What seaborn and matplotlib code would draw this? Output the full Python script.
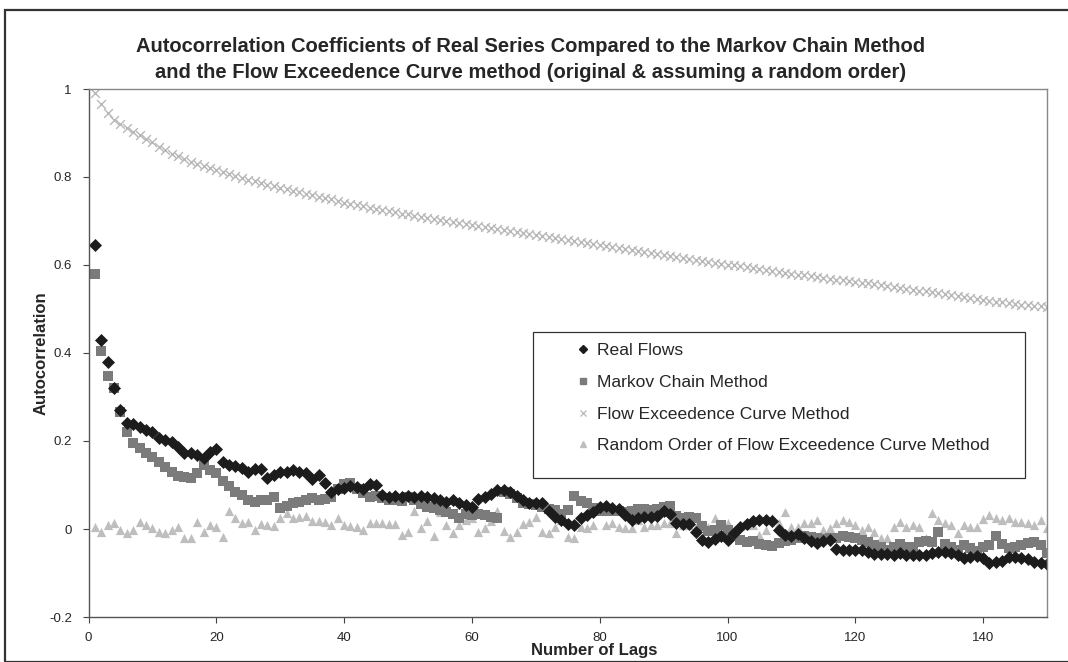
import numpy as np
import pandas as pd
import seaborn as sns
import matplotlib
matplotlib.use("Agg")
import matplotlib.pyplot as plt
from matplotlib.patches import Rectangle

lags = list(range(1, 151))

real_flows = [
    0.645, 0.430, 0.380, 0.320, 0.270, 0.242, 0.238, 0.231, 0.225, 0.220,
    0.206, 0.202, 0.198, 0.186, 0.172, 0.173, 0.168, 0.161, 0.176, 0.181,
    0.152, 0.145, 0.143, 0.138, 0.130, 0.136, 0.136, 0.115, 0.123, 0.130,
    0.130, 0.134, 0.130, 0.127, 0.113, 0.123, 0.105, 0.085, 0.090, 0.094,
    0.098, 0.096, 0.092, 0.102, 0.100, 0.077, 0.072, 0.074, 0.072, 0.076,
    0.073, 0.075, 0.072, 0.070, 0.066, 0.062, 0.067, 0.060, 0.055, 0.051,
    0.068, 0.072, 0.080, 0.088, 0.089, 0.085, 0.076, 0.066, 0.060, 0.058,
    0.058, 0.040, 0.028, 0.020, 0.011, 0.009, 0.024, 0.032, 0.038, 0.050,
    0.052, 0.048, 0.045, 0.032, 0.020, 0.026, 0.027, 0.028, 0.030, 0.040,
    0.035, 0.013, 0.011, 0.012, -0.006, -0.024, -0.030, -0.022, -0.017, -0.025,
    -0.010, 0.004, 0.012, 0.018, 0.020, 0.021, 0.018, -0.002, -0.014, -0.017,
    -0.012, -0.020, -0.028, -0.031, -0.028, -0.025, -0.046, -0.047, -0.048, -0.048,
    -0.048, -0.052, -0.057, -0.057, -0.057, -0.058, -0.055, -0.060, -0.058, -0.058,
    -0.059, -0.055, -0.052, -0.052, -0.054, -0.059, -0.067, -0.064, -0.062, -0.067,
    -0.077, -0.074, -0.072, -0.063, -0.063, -0.066, -0.069, -0.074, -0.078, -0.080,
]

markov_chain = [
    0.579, 0.405, 0.348, 0.320, 0.267, 0.221, 0.195, 0.183, 0.173, 0.164,
    0.153, 0.142, 0.130, 0.120, 0.119, 0.115, 0.127, 0.145, 0.134, 0.128,
    0.110, 0.098, 0.085, 0.077, 0.066, 0.062, 0.066, 0.067, 0.072, 0.047,
    0.052, 0.058, 0.062, 0.066, 0.070, 0.066, 0.068, 0.073, 0.092, 0.102,
    0.105, 0.090, 0.082, 0.072, 0.075, 0.070, 0.067, 0.066, 0.064, 0.072,
    0.066, 0.056, 0.050, 0.047, 0.043, 0.038, 0.033, 0.025, 0.033, 0.032,
    0.034, 0.032, 0.028, 0.026, 0.085, 0.080, 0.070, 0.060, 0.056, 0.055,
    0.050, 0.045, 0.043, 0.035, 0.043, 0.075, 0.064, 0.058, 0.048, 0.041,
    0.040, 0.042, 0.041, 0.039, 0.041, 0.045, 0.045, 0.043, 0.045, 0.051,
    0.053, 0.030, 0.025, 0.027, 0.025, 0.006, -0.004, -0.002, 0.008, -0.002,
    -0.017, -0.025, -0.029, -0.028, -0.033, -0.037, -0.038, -0.031, -0.028, -0.025,
    -0.021, -0.017, -0.018, -0.021, -0.022, -0.020, -0.021, -0.017, -0.019, -0.021,
    -0.026, -0.030, -0.036, -0.040, -0.047, -0.042, -0.035, -0.040, -0.042, -0.030,
    -0.028, -0.030, -0.006, -0.033, -0.040, -0.047, -0.036, -0.043, -0.050, -0.040,
    -0.036, -0.016, -0.033, -0.044, -0.040, -0.036, -0.032, -0.030, -0.036, -0.055,
]

flow_exceedence = [
    0.990, 0.965, 0.945, 0.930, 0.920, 0.912, 0.903, 0.895, 0.887, 0.879,
    0.869, 0.861, 0.853, 0.847, 0.841, 0.835, 0.830, 0.825, 0.821, 0.817,
    0.812, 0.807, 0.802, 0.798, 0.794, 0.790, 0.786, 0.782, 0.779, 0.775,
    0.772, 0.768, 0.765, 0.762, 0.759, 0.755, 0.752, 0.749, 0.746, 0.742,
    0.739, 0.736, 0.733, 0.730, 0.727, 0.725, 0.722, 0.720, 0.717, 0.715,
    0.712, 0.710, 0.707, 0.705, 0.702, 0.700, 0.698, 0.695, 0.693, 0.691,
    0.689, 0.686, 0.684, 0.682, 0.680, 0.677, 0.675, 0.673, 0.671, 0.668,
    0.666, 0.664, 0.662, 0.660, 0.657, 0.655, 0.653, 0.650, 0.648, 0.646,
    0.644, 0.641, 0.639, 0.637, 0.635, 0.632, 0.630, 0.628, 0.625, 0.623,
    0.621, 0.619, 0.616, 0.614, 0.612, 0.610, 0.607, 0.605, 0.603, 0.601,
    0.599, 0.597, 0.595, 0.593, 0.590, 0.588, 0.586, 0.584, 0.582, 0.580,
    0.578, 0.577, 0.575, 0.573, 0.571, 0.569, 0.567, 0.566, 0.564, 0.562,
    0.560, 0.558, 0.556, 0.554, 0.552, 0.550, 0.548, 0.546, 0.544, 0.542,
    0.540, 0.538, 0.536, 0.534, 0.532, 0.530, 0.527, 0.525, 0.523, 0.521,
    0.519, 0.517, 0.515, 0.513, 0.511, 0.510, 0.508, 0.507, 0.506, 0.505,
]

random_order = [
    0.004, -0.006, 0.009, 0.014, -0.002, -0.010, -0.002, 0.017, 0.009, 0.002,
    -0.006, -0.010, -0.002, 0.005, -0.021, -0.021, 0.017, -0.006, 0.009, 0.005,
    -0.019, 0.040, 0.024, 0.014, 0.017, -0.003, 0.012, 0.009, 0.007, 0.026,
    0.036, 0.026, 0.028, 0.029, 0.019, 0.018, 0.016, 0.010, 0.025, 0.010,
    0.006, 0.004, -0.002, 0.014, 0.013, 0.013, 0.012, 0.011, -0.014, -0.007,
    0.040, 0.003, 0.018, -0.016, 0.038, 0.008, -0.008, 0.009, 0.021, 0.024,
    -0.007, 0.003, 0.019, 0.042, -0.004, -0.018, -0.006, 0.011, 0.017, 0.028,
    -0.006, -0.008, 0.005, 0.020, -0.019, -0.020, 0.005, 0.002, 0.009, 0.043,
    0.009, 0.013, 0.005, 0.002, 0.002, 0.020, 0.005, 0.009, 0.009, 0.013,
    0.013, -0.010, 0.009, 0.009, 0.005, 0.012, 0.005, 0.024, 0.005, 0.013,
    -0.005, 0.007, 0.010, 0.009, -0.014, -0.002, 0.024, 0.013, 0.039, 0.005,
    0.005, 0.013, 0.014, 0.020, -0.002, 0.003, 0.013, 0.020, 0.017, 0.009,
    -0.002, 0.004, -0.006, -0.021, -0.021, 0.004, 0.017, 0.005, 0.009, 0.004,
    -0.021, 0.036, 0.020, 0.013, 0.009, -0.010, 0.009, 0.005, 0.005, 0.022,
    0.032, 0.024, 0.020, 0.024, 0.017, 0.017, 0.013, 0.009, 0.020, 0.002,
]

series_names = [
    "Real Flows",
    "Markov Chain Method",
    "Flow Exceedence Curve Method",
    "Random Order of Flow Exceedence Curve Method",
]
y_ticks = [-0.2, 0, 0.2, 0.4, 0.6, 0.8, 1]
y_tick_labels = ["-0.2", "0", "0.2", "0.4", "0.6", "0.8", "1"]
x_ticks = [0, 20, 40, 60, 80, 100, 120, 140]

frames = []
for name, vals in zip(series_names,
                      [real_flows, markov_chain, flow_exceedence, random_order]):
    frames.append(pd.DataFrame({"lag": lags, "acf": vals, "series": name}))
df = pd.concat(frames, ignore_index=True)

sns.set_theme(style="white")
plt.rcParams["font.family"] = ["Liberation Sans", "DejaVu Sans"]

W, H = 1068, 662
fig = plt.figure(figsize=(W / 100, H / 100), dpi=100)
fig.patch.set_facecolor("white")
ax = fig.add_axes([88.5 / W, 1 - 617 / H, (1047 - 88.5) / W, (617 - 89) / H])

palette = {
    series_names[0]: "#1c1c1c",
    series_names[1]: "#7b7b7b",
    series_names[2]: "#b8b8b8",
    series_names[3]: "#bebebe",
}
markers = {
    series_names[0]: "D",
    series_names[1]: "s",
    series_names[2]: "x",
    series_names[3]: "^",
}
sizes = {
    series_names[0]: 44,
    series_names[1]: 62,
    series_names[2]: 40,
    series_names[3]: 44,
}
legend_marker_sizes = {
    series_names[0]: 4.2,
    series_names[1]: 5.0,
    series_names[2]: 5.0,
    series_names[3]: 5.0,
}

# grey series first so the darker ones sit on top
for name in [series_names[2], series_names[3], series_names[1], series_names[0]]:
    sub = df[df["series"] == name]
    if markers[name] == "x":
        sns.scatterplot(data=sub, x="lag", y="acf", ax=ax, color=palette[name],
                        marker="x", s=sizes[name], linewidth=1.0, legend=False)
    else:
        sns.scatterplot(data=sub, x="lag", y="acf", ax=ax, color=palette[name],
                        marker=markers[name], s=sizes[name], linewidth=0,
                        edgecolor=palette[name], legend=False)

ax.set_xlim(0, 150)
ax.set_ylim(-0.2, 1.0)
ax.set_xticks(x_ticks)
ax.set_xticklabels([str(t) for t in x_ticks], fontsize=9.5)
ax.set_yticks(y_ticks)
ax.set_yticklabels(y_tick_labels, fontsize=9.5)
ax.tick_params(axis="y", direction="out", length=4, width=0.8, color="#444444",
               pad=8, left=True)
ax.tick_params(axis="x", direction="out", length=4, width=0.8, color="#444444",
               pad=7, bottom=True)
for side, sp in ax.spines.items():
    sp.set_visible(True)
    sp.set_color("#555555" if side in ("left", "bottom") else "#888888")
    sp.set_linewidth(1.0)

ax.set_xlabel("Number of Lags", fontsize=12, fontweight="bold")
ax.xaxis.label.set_va("center")
ax.xaxis.set_label_coords(0.528, -(650 - 617) / (617 - 89))
ax.set_ylabel("Autocorrelation", fontsize=12, fontweight="bold")
ax.yaxis.set_label_coords(-0.042, 0.5)

fig.text(531 / W, 1 - 46 / H,
         "Autocorrelation Coefficients of Real Series Compared to the Markov Chain Method",
         ha="center", va="center", fontsize=14.5, fontweight="bold")
fig.text(531 / W, 1 - 72 / H,
         "and the Flow Exceedence Curve method (original & assuming a random order)",
         ha="center", va="center", fontsize=14.5, fontweight="bold")

# legend: frameless entries inside a separately drawn box
handles = []
for name in series_names:
    if markers[name] == "x":
        h = plt.Line2D([], [], linestyle="none", marker="x", color=palette[name],
                       markersize=legend_marker_sizes[name], markeredgewidth=0.9)
    else:
        h = plt.Line2D([], [], linestyle="none", marker=markers[name],
                       color=palette[name], markeredgecolor=palette[name],
                       markersize=legend_marker_sizes[name])
    handles.append(h)
ax.add_patch(Rectangle((533 / W, 1 - 478 / H), (1025 - 533) / W,
                       (478 - 332) / H, transform=fig.transFigure,
                       facecolor="white", edgecolor="#333333",
                       linewidth=0.9, zorder=5, clip_on=False))
leg = ax.legend(handles, series_names, loc="upper left",
                bbox_to_anchor=(576 / W, 1 - 343 / H), bbox_transform=fig.transFigure,
                frameon=False, fontsize=12.6, handlelength=0.8,
                handletextpad=0.4, labelspacing=0.94, borderpad=0,
                borderaxespad=0)
leg.set_zorder(10)

# outer chart frame
fig.patches.append(Rectangle((5 / W, 0), 1 - 5 / W + 0.01, 1 - 10 / H,
                             transform=fig.transFigure, fill=False,
                             edgecolor="#333333", linewidth=1.6, clip_on=False))

fig.savefig("out.png", dpi=100)
